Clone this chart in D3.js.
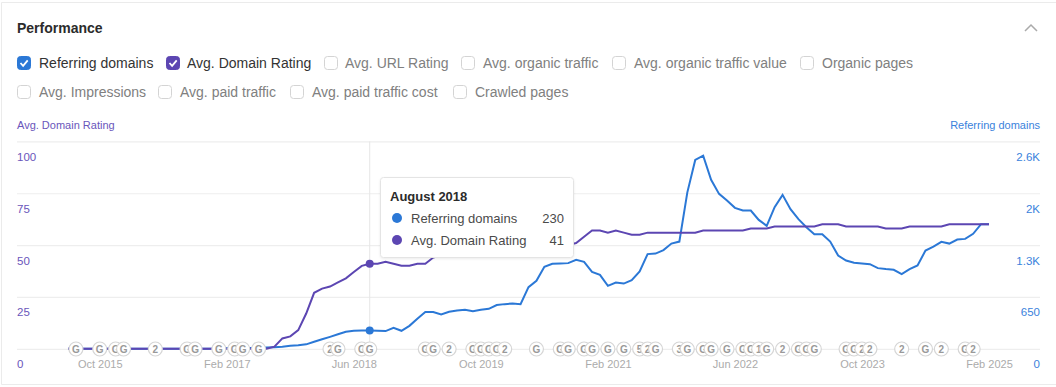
<!DOCTYPE html>
<html>
<head>
<meta charset="utf-8">
<script src="https://cdn.jsdelivr.net/npm/d3@7"></script>
<style>
  html, body { margin: 0; padding: 0; background: #fff; overflow: hidden; }
  svg { display: block; font-family: "Liberation Sans", Arial, sans-serif; }
</style>
</head>
<body>
<div id="chart"></div>
<script>
// monthly values, Jun 2015 -> Feb 2025
const referringDomains = [
  2, 2, 2, 2, 2, 2, 2, 2, 2, 2, 2, 2, 2, 2, 2, 2, 2, 2, 2, 4, 6, 8, 8, 10, 12, 15,
  19, 25, 38, 44, 56, 88, 119, 150, 182, 213, 226, 229, 230,
  226, 222, 263, 226, 288, 376, 460, 460, 430, 464, 480, 489, 472, 489, 501, 548, 560, 568, 560,
  773, 852, 1027, 1065, 1069, 1074, 1115, 1090, 965, 927, 789, 831, 818, 861, 969, 1187, 1194, 1237, 1319, 1344,
  1958, 2368, 2422, 2118, 1942, 1858, 1767, 1733, 1733, 1616, 1541, 1775, 1930, 1750, 1625, 1525, 1437, 1435,
  1344, 1169, 1106, 1078, 1069, 1061, 1011, 999, 990, 936, 999, 1044, 1232, 1282, 1341, 1319, 1370, 1378, 1441, 1562, 1560
];
const domainRating = [
  0, 0, 0, 0, 0, 0, 0, 0, 0, 0, 0, 0, 0, 0, 0, 0, 0, 0, 0, 0, 0, 0, 0, 0, 0, 0,
  1, 5, 6, 9, 17, 27, 29, 30, 32, 34, 37, 40, 41,
  41, 42, 41, 40, 40, 41, 41, 44, 45, 45, 46, 46, 47, 47, 47, 48, 48, 48, 49, 49, 49, 49, 50, 50, 50,
  51, 54, 57, 57, 56, 57, 56, 55, 55, 56, 56, 56, 56, 56, 56, 56,
  57, 57, 57, 57, 57, 57, 58, 58, 58, 59, 59, 59, 59, 59, 59, 60, 60, 60,
  59, 59, 59, 59, 59, 58, 58, 58, 59, 59, 59, 59, 59, 60, 60, 60, 60, 60, 60
];

// annotation pins: month index + glyph
const pinMonths = [1, 4, 6, 7, 11, 15, 16, 19, 21, 22, 24, 33, 34, 37, 38, 45, 46, 48, 51, 52, 53, 54, 55, 59, 62, 63, 65, 66, 68, 70, 72, 73, 74, 77, 78, 80, 81, 83, 85, 86, 87, 88, 90, 92, 93, 94, 98, 99, 100, 101, 105, 108, 110, 113, 114];
const pinLabels = ["G", "G", "G", "G", "2", "G", "G", "G", "G", "G", "G", "2", "G", "G", "G", "G", "G", "2", "G", "G", "G", "G", "2", "G", "G", "G", "G", "G", "G", "G", "5", "2", "G", "3", "G", "G", "G", "G", "G", "G", "1", "G", "2", "G", "G", "G", "G", "G", "2", "2", "2", "G", "2", "G", "2"];

const xTickMonths = [4, 20, 36, 52, 68, 84, 100, 116];
const xTickLabels = ["Oct 2015", "Feb 2017", "Jun 2018", "Oct 2019", "Feb 2021", "Jun 2022", "Oct 2023", "Feb 2025"];
const leftTicks = [0, 25, 50, 75, 100];
const rightTicks = [0, 650, 1300, 1950, 2600];
const rightTickLabels = ["0", "650", "1.3K", "2K", "2.6K"];

const rowOneBoxes = ["Referring domains", "Avg. Domain Rating", "Avg. URL Rating", "Avg. organic traffic", "Avg. organic traffic value", "Organic pages"];
const rowTwoBoxes = ["Avg. Impressions", "Avg. paid traffic", "Avg. paid traffic cost", "Crawled pages"];

const hoverMonth = 38;
const hoverTitle = "August 2018";

const BLUE = "#2b78d6";
const PURPLE = "#5c46b2";
const width = 1056, height = 387;
const gridLeft = 17, gridRight = 1040;

const svg = d3.select("#chart").append("svg")
  .attr("width", width)
  .attr("height", height);

// panel frame
svg.append("path")
  .attr("d", `M${width},2.5 H1.5 V384.5 H${width}`)
  .attr("fill", "none")
  .attr("stroke", "#ebebeb")
  .attr("stroke-width", 1);

svg.append("text")
  .attr("x", 17).attr("y", 33)
  .style("font-size", "14px").style("font-weight", "bold")
  .attr("fill", "#2b2b2b")
  .text("Performance");

svg.append("path")
  .attr("d", "M1025,31 L1031,25 L1037,31")
  .attr("fill", "none").attr("stroke", "#aaa").attr("stroke-width", 1.5);

// checkboxes
function addChecks(names, boxX, textX, y, colors) {
  const g = svg.selectAll(null).data(names).enter().append("g");
  g.append("rect")
    .attr("x", (d, i) => boxX[i] + 0.5).attr("y", y - 6.5)
    .attr("width", 13).attr("height", 13).attr("rx", 3)
    .attr("fill", (d, i) => colors[i] || "#fff")
    .attr("stroke", (d, i) => colors[i] || "#d4d4d4");
  g.filter((d, i) => colors[i]).append("path")
    .attr("d", (d) => {
      const bx = boxX[names.indexOf(d)];
      return `M${bx + 3.5},${y} l2.6,2.8 l4.6,-5.4`;
    })
    .attr("fill", "none").attr("stroke", "#fff").attr("stroke-width", 1.8);
  g.append("text")
    .attr("x", (d, i) => textX[i]).attr("y", y + 4.5)
    .style("font-size", "14px")
    .attr("fill", (d, i) => colors[i] ? "#333" : "#808080")
    .text(d => d);
}
addChecks(rowOneBoxes, [17, 166, 324, 461, 612, 800], [39, 187, 345, 483, 634, 822], 63, [BLUE, PURPLE]);
addChecks(rowTwoBoxes, [17, 158, 290, 453], [39, 180, 312, 475], 92, []);

// axis titles
svg.append("text").attr("x", gridLeft).attr("y", 129)
  .style("font-size", "11px").attr("fill", "#6a56bb").text("Avg. Domain Rating");
svg.append("text").attr("x", gridRight).attr("y", 129).attr("text-anchor", "end")
  .style("font-size", "11px").attr("fill", "#3a82dc").text("Referring domains");

// scales
const x = d3.scaleLinear().domain([0, 116]).range([68, 989]);
const yRating = d3.scaleLinear().domain([0, 100]).range([348.8, 141.4]);
const yDomains = d3.scaleLinear().domain([0, 2600]).range([348.8, 141.4]);

// left axis draws the gridlines too, labels hang under each line
const leftAxis = svg.append("g")
  .attr("transform", `translate(${gridLeft},0)`)
  .call(d3.axisRight(yRating).tickValues(leftTicks).tickSize(gridRight - gridLeft));
leftAxis.select(".domain").remove();
leftAxis.selectAll("line").attr("stroke", "#eeeeee").attr("stroke-width", 1.2);
leftAxis.selectAll("text")
  .attr("x", 0).attr("dy", 19)
  .style("font-size", "11.5px").style("font-family", "inherit")
  .attr("fill", "#6a56bb");

const rightAxis = svg.append("g")
  .attr("transform", `translate(${gridRight},0)`)
  .call(d3.axisLeft(yDomains).tickValues(rightTicks).tickSize(0)
    .tickFormat((d, i) => rightTickLabels[i]));
rightAxis.select(".domain").remove();
rightAxis.selectAll("text")
  .attr("x", 0).attr("dy", 19)
  .style("font-size", "11.5px").style("font-family", "inherit")
  .attr("fill", "#3a82dc");

const xAxis = svg.append("g")
  .attr("transform", "translate(0,349)")
  .call(d3.axisBottom(x).tickValues(xTickMonths).tickSize(0)
    .tickFormat((d, i) => xTickLabels[i]));
xAxis.select(".domain").remove();
xAxis.selectAll("text")
  .attr("y", 11)
  .style("font-size", "11px").style("font-family", "inherit")
  .attr("fill", "#ababab");

// crosshair
svg.append("line")
  .attr("x1", x(hoverMonth)).attr("x2", x(hoverMonth))
  .attr("y1", yRating(100)).attr("y2", yRating(0))
  .attr("stroke", "#e6e6e6");

// lines
const domainsLine = d3.line().x((d, i) => x(i)).y(d => yDomains(d));
const ratingLine = d3.line().x((d, i) => x(i)).y(d => yRating(d));

svg.append("path").datum(referringDomains)
  .attr("d", domainsLine)
  .attr("fill", "none").attr("stroke", BLUE).attr("stroke-width", 2);
svg.append("path").datum(domainRating)
  .attr("d", ratingLine)
  .attr("fill", "none").attr("stroke", PURPLE).attr("stroke-width", 2);

// hover dots
svg.append("circle")
  .attr("cx", x(hoverMonth)).attr("cy", yDomains(referringDomains[hoverMonth]))
  .attr("r", 4).attr("fill", BLUE);
svg.append("circle")
  .attr("cx", x(hoverMonth)).attr("cy", yRating(domainRating[hoverMonth]))
  .attr("r", 4).attr("fill", PURPLE);

// pins
const pins = svg.selectAll("g.pin")
  .data(pinMonths)
  .enter()
  .append("g")
  .classed("pin", true)
  .attr("transform", d => `translate(${x(d)},349)`);
pins.append("circle")
  .attr("r", 7)
  .attr("fill", "#fff")
  .attr("stroke", "#d6d6d6")
  .attr("stroke-width", 1.2);
pins.append("text")
  .attr("text-anchor", "middle")
  .attr("y", 3.5)
  .style("font-size", "10px")
  .style("font-weight", "bold")
  .attr("fill", "#999")
  .text((d, i) => pinLabels[i]);

// tooltip
const tip = svg.append("g");
tip.append("rect")
  .attr("x", 380.5).attr("y", 177.5)
  .attr("width", 193).attr("height", 80).attr("rx", 3)
  .attr("fill", "#fff")
  .attr("stroke", "#e4e4e4")
  .style("filter", "drop-shadow(0 1px 1px rgba(0,0,0,0.08))");
tip.append("text")
  .attr("x", 390).attr("y", 201)
  .style("font-size", "13px").style("font-weight", "bold")
  .attr("fill", "#2b2b2b")
  .text(hoverTitle);

const tipRows = [
  { name: rowOneBoxes[0], value: referringDomains[hoverMonth], color: BLUE },
  { name: rowOneBoxes[1], value: domainRating[hoverMonth], color: PURPLE }
];
const rows = tip.selectAll("g.row").data(tipRows).enter().append("g")
  .attr("transform", (d, i) => `translate(0,${218 + i * 22})`);
rows.append("circle").attr("cx", 397).attr("r", 5).attr("fill", d => d.color);
rows.append("text").attr("x", 411).attr("y", 4.5)
  .style("font-size", "13px").attr("fill", "#4a4a4a").text(d => d.name);
rows.append("text").attr("x", 564).attr("y", 4.5).attr("text-anchor", "end")
  .style("font-size", "13px").attr("fill", "#4a4a4a").text(d => d.value);
</script>
</body>
</html>
